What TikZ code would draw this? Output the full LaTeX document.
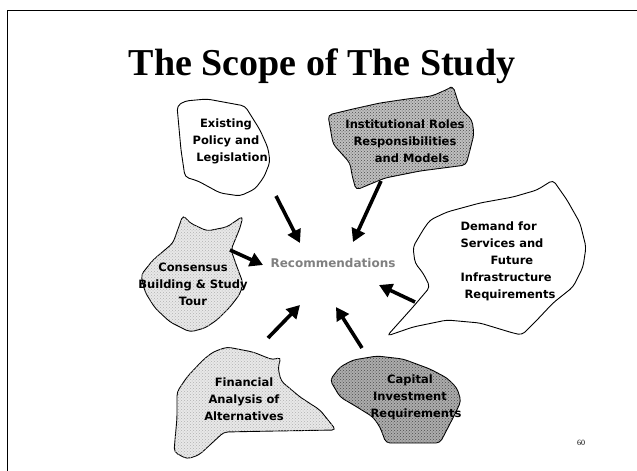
\documentclass[tikz,border=0pt]{standalone}
\usepackage{fontspec}
\setmainfont{Liberation Serif}
\newfontfamily\bubblefont{DejaVu Sans}
\usetikzlibrary{arrows.meta,patterns}

\tikzset{
  bubble/.style={draw=black, line width=0.9pt, rounded corners=4pt},
  lightdots/.style={bubble, fill=gray!18, postaction={pattern=crosshatch dots, pattern color=gray!60}},
  darkdots/.style={bubble, fill=gray!50, postaction={pattern=crosshatch dots, pattern color=black!70}},
  bubbletext/.style={font=\bubblefont\bfseries\fontsize{11.5}{17}\selectfont, align=center, inner sep=0pt},
  bigarrow/.style={line width=3.6pt, -{Triangle[length=13pt,width=14pt]}}
}

\begin{document}
\begin{tikzpicture}[x=1pt, y=-1pt]
    \useasboundingbox (0,0) rectangle (637,471);

    % Khung trang
    \draw[line width=0.8pt] (7,471) -- (7,10) -- (637,10);

    % 1. Tiêu đề
    \node[anchor=base, font=\bfseries\fontsize{38}{40}\selectfont] (title) at (322,75) {The Scope of The Study};

    % 2. Các vùng bao quanh
    \path[bubble, fill=white] (177,106) -- (185,101) -- (207,99) -- (245,106) -- (260,130) -- (268,148)
        -- (270,162) -- (264,177) -- (255,189) -- (240,196) -- (220,193) -- (198,181) -- (185,177)
        -- (181,150) -- cycle;
    \path[darkdots] (328,115) -- (353,109) -- (380,103) -- (407,99) -- (432,96) -- (448,89) -- (453,86)
        -- (460,108) -- (472,120) -- (474,134) -- (470,150) -- (466,165) -- (420,171) -- (385,178)
        -- (356,190) -- (352,175) -- (350,163) -- (333,144) -- cycle;
    \path[bubble, fill=white] (553,180) -- (567,200) -- (580,223) -- (586,247) -- (583,267) -- (573,287)
        -- (553,303) -- (537,320) -- (522,335) -- (513,333) -- (480,323) -- (447,320) -- (413,327)
        -- (387,336) -- (413,307) -- (430,287) -- (423,273) -- (415,263) -- (413,247) -- (423,230)
        -- (430,220) -- (447,212) -- (480,203) -- (513,197) -- (537,190) -- cycle;
    \path[lightdots] (183,215) -- (190,223) -- (207,231) -- (227,227) -- (243,216) -- (240,228)
        -- (235,240) -- (231,250) -- (237,267) -- (243,283) -- (240,294) -- (230,307) -- (217,320)
        -- (205,328) -- (190,332) -- (170,322) -- (155,308) -- (145,292) -- (141,275) -- (153,260)
        -- (173,243) -- cycle;
    \path[lightdots] (213,352) -- (227,347) -- (253,352) -- (273,360) -- (281,357) -- (278,368)
        -- (281,381) -- (300,397) -- (320,410) -- (336,430) -- (275,431) -- (224,432) -- (199,455)
        -- (187,459) -- (174,452) -- (175,440) -- (177,418) -- (177,392) -- (187,377) -- (203,360) -- cycle;
    \path[darkdots, fill=gray!65] (330,380) -- (340,367) -- (353,360) -- (377,356) -- (403,359) -- (430,369)
        -- (447,378) -- (457,388) -- (461,401) -- (455,414) -- (440,443) -- (386,443) -- (380,427)
        -- (373,417) -- (357,407) -- (340,397) -- cycle;

    % 3. Nhãn trong các vùng
    \node[bubbletext] (policy) at (226,141) {Existing\\Policy and\\\hspace{12pt}Legislation};
    \node[bubbletext] (roles) at (405,141) {Institutional Roles\\Responsibilities\\\hspace{14pt}and Models};
    \node[bubbletext, align=left] (demand) at (508,261) {Demand for\\Services and\\\hspace{30pt}Future\\Infrastructure\\\hspace{4pt}Requirements};
    \node[bubbletext] (consensus) at (193,284) {Consensus\\Building \& Study\\Tour};
    \node[bubbletext] (finance) at (244,399) {Financial\hspace{20pt}\\Analysis of\\Alternatives};
    \node[bubbletext] (capital) at (410,397) {Capital\hspace{16pt}\\Investment\\\hspace{12pt}Requirements};

    % 4. Ô trung tâm
    \node[bubbletext, text=black!50, font=\bubblefont\bfseries\fontsize{12}{14}\selectfont] (recs) at (333,263) {Recommendations};

    % 5. Các mũi tên hướng vào trung tâm
    \coordinate (policy-out) at (276,196);   \coordinate (policy-in) at (300,243);
    \coordinate (roles-out) at (381,181);    \coordinate (roles-in) at (353,242);
    \coordinate (consensus-out) at (230,250); \coordinate (consensus-in) at (263,265);
    \coordinate (demand-out) at (415,302);   \coordinate (demand-in) at (379,285);
    \coordinate (finance-out) at (268,338);  \coordinate (finance-in) at (300,305);
    \coordinate (capital-out) at (362,348);  \coordinate (capital-in) at (336,307);
    \foreach \src in {policy,roles,consensus,demand,finance,capital}
        \draw[bigarrow] (\src-out) -- (\src-in);

    % 6. Số trang
    \node[font=\fontsize{8}{9}\selectfont] (pageno) at (581,443) {60};
\end{tikzpicture}
\end{document}
